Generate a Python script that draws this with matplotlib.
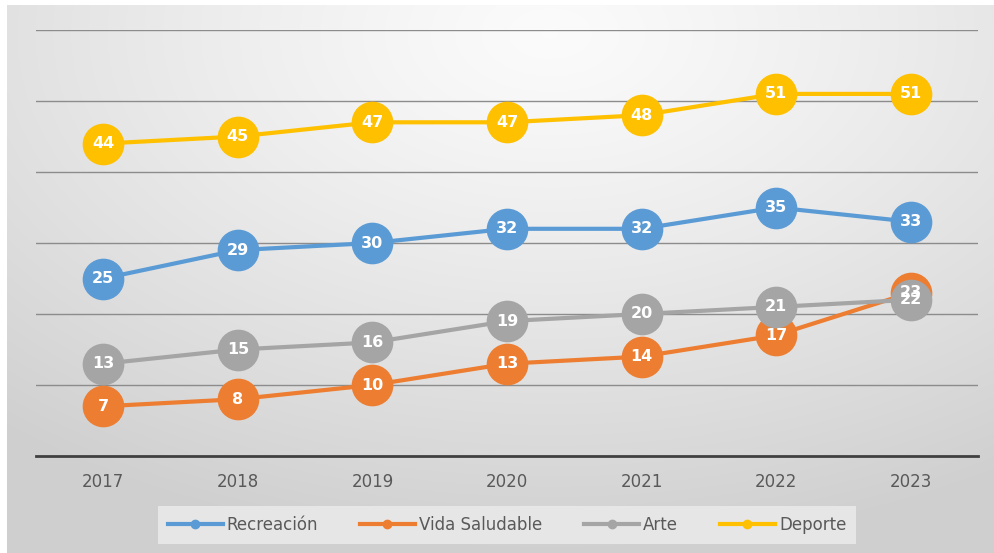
import numpy as np
import matplotlib.pyplot as plt
from matplotlib.lines import Line2D

years = ['2017', '2018', '2019', '2020', '2021', '2022', '2023']
recreacion = [25, 29, 30, 32, 32, 35, 33]
vida_saludable = [7, 8, 10, 13, 14, 17, 23]
arte = [13, 15, 16, 19, 20, 21, 22]
deporte = [44, 45, 47, 47, 48, 51, 51]

series = [
    ('Recreación', recreacion, '#5B9BD5'),
    ('Vida Saludable', vida_saludable, '#ED7D31'),
    ('Arte', arte, '#A5A5A5'),
    ('Deporte', deporte, '#FFC000'),
]

W, H = 995, 553
fig = plt.figure(figsize=(W / 100, H / 100), dpi=100)
fig.patch.set_facecolor('white')

# gradient background of the chart area
bg = fig.add_axes([7 / W, 0, (W - 7) / W, (H - 5) / H])
bg.set_axis_off()
ny, nx = 200, 360
yy, xx = np.mgrid[0:1:ny * 1j, 0:1:nx * 1j]
dist = np.sqrt((xx - 0.55) ** 2 + ((yy - 0.05) * 0.9) ** 2)
shade = 0.985 - 0.17 * np.clip(dist / 0.85, 0, 1) ** 1.2
bg.imshow(np.dstack([shade] * 3), aspect='auto', extent=[0, 1, 1, 0],
          interpolation='bilinear')
bg.set_xlim(0, 1)
bg.set_ylim(1, 0)

ax = fig.add_axes([36 / W, (H - 456) / H, (978 - 36) / W, (456 - 30) / H])
ax.patch.set_alpha(0)
x = np.arange(len(years))

for name, vals, color in series:
    ax.plot(x, vals, color=color, lw=3, marker='o', ms=29,
            solid_capstyle='round', zorder=3, clip_on=False)
for name, vals, color in series:
    for xi, v in zip(x, vals):
        ax.text(xi, v, str(v), ha='center', va='center', color='white',
                fontsize=11.5, fontweight='bold', zorder=5)

ax.set_xlim(-0.5, len(years) - 0.5)
ax.set_ylim(0, 60)
ax.set_yticks([10, 20, 30, 40, 50, 60])
ax.yaxis.grid(True, color='#8c8c8c', lw=1)
ax.set_axisbelow(True)
ax.tick_params(axis='y', left=False, labelleft=False)
ax.tick_params(axis='x', bottom=False, labelsize=12, labelcolor='#595959', pad=9)
ax.set_xticks(x)
ax.set_xticklabels(years)
for side in ['top', 'right', 'left']:
    ax.spines[side].set_visible(False)
ax.spines['bottom'].set_color('#404040')
ax.spines['bottom'].set_linewidth(2)

handles = [Line2D([0], [0], color=c, lw=3, marker='o', ms=6) for _, _, c in series]
leg = fig.legend(handles, [n for n, _, _ in series], loc='center',
                 bbox_to_anchor=(507 / W, (H - 525) / H), ncol=4, frameon=True,
                 fontsize=12, handlelength=3.3, columnspacing=2.5,
                 handletextpad=0.25, borderpad=0.6, borderaxespad=0)
leg.get_frame().set_facecolor('#ececec')
leg.get_frame().set_edgecolor('none')
leg.get_frame().set_boxstyle('square', pad=0)
for t in leg.get_texts():
    t.set_color('#595959')

fig.savefig('out.png', dpi=100)
